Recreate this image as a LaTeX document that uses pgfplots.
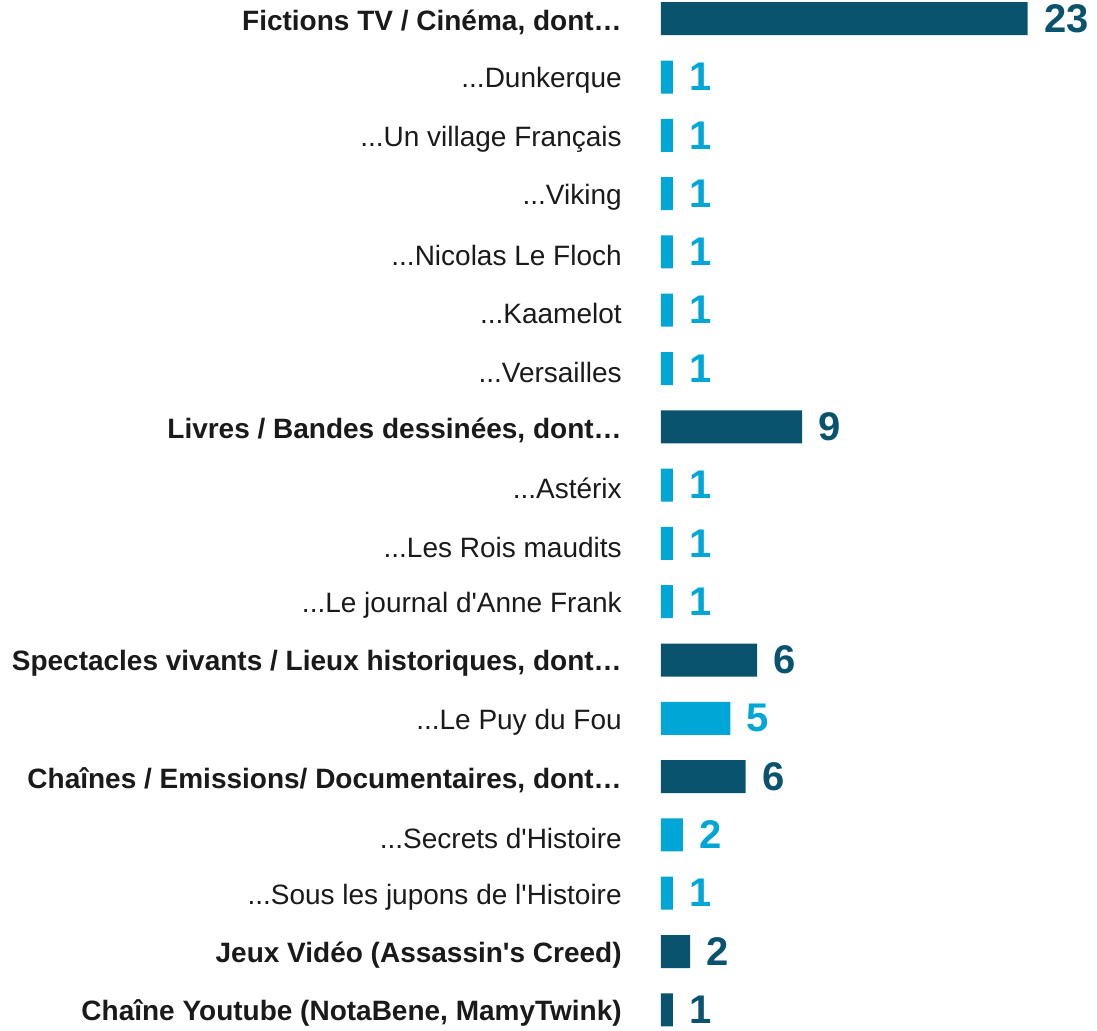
\documentclass[border=0pt]{standalone}
\usepackage{pgfplots}
\pgfplotsset{compat=1.18}
\usepackage{fontspec}
\setmainfont{Liberation Sans}[Ligatures=TeXOff]
\definecolor{darkb}{RGB}{10,83,110}
\definecolor{lightb}{RGB}{0,166,214}
\definecolor{txt}{RGB}{26,26,26}
\newcommand\ddd{...}
\begin{document}
\begin{tikzpicture}
\begin{axis}[
 width=548.5pt, height=515.5pt, scale only axis,
 xmin=-41.29, xmax=27.27,
 ymin=-0.321, ymax=17.36, y dir=reverse,
 xbar, bar width=16.5pt, bar shift=0pt,
 axis x line=none, axis y line=left, y axis line style={draw=none},
 ytick={0,1,2,3,4,5,6,7,8,9,10,11,12,13,14,15,16,17}, major tick length=0pt,
 yticklabels={
  {\textbf{Fictions TV / Cinéma, dont…}},
  {\ddd Dunkerque},
  {\ddd Un village Français},
  {\ddd Viking},
  {\ddd Nicolas Le Floch},
  {\ddd Kaamelot},
  {\ddd Versailles},
  {\textbf{Livres / Bandes dessinées, dont…}},
  {\ddd Astérix},
  {\ddd Les Rois maudits},
  {\ddd Le journal d'Anne Frank},
  {\textbf{Spectacles vivants / Lieux historiques, dont…}},
  {\ddd Le Puy du Fou},
  {\textbf{Chaînes / Emissions/ Documentaires, dont…}},
  {\ddd Secrets d'Histoire},
  {\ddd Sous les jupons de l'Histoire},
  {\textbf{Jeux Vidéo (Assassin's Creed)}},
  {\textbf{Chaîne Youtube (NotaBene, MamyTwink)}}
 },
 yticklabel style={anchor=east, inner sep=0pt, xshift=311pt, yshift=-1.8pt, font=\fontsize{14}{14}\selectfont, text=txt},
 clip=false,
 nodes near coords, point meta=explicit symbolic,
 nodes near coords style={anchor=west, inner sep=0pt, xshift=8pt, font=\bfseries\fontsize{20}{20}\selectfont},
]
\addplot[fill=darkb, draw=none, every node near coord/.append style={text=darkb}] table[meta=label] {
x y label
22.94 0 23
8.83 7 9
6.02 11 6
5.31 13 6
1.83 16 2
0.75 17 1
};
\addplot[fill=lightb, draw=none, every node near coord/.append style={text=lightb}] table[meta=label] {
x y label
0.75 1 1
0.75 2 1
0.75 3 1
0.75 4 1
0.75 5 1
0.75 6 1
0.75 8 1
0.75 9 1
0.75 10 1
4.35 12 5
1.375 14 2
0.75 15 1
};
\end{axis}
\path (current axis.south west) rectangle (current axis.north east);
\end{tikzpicture}
\end{document}
